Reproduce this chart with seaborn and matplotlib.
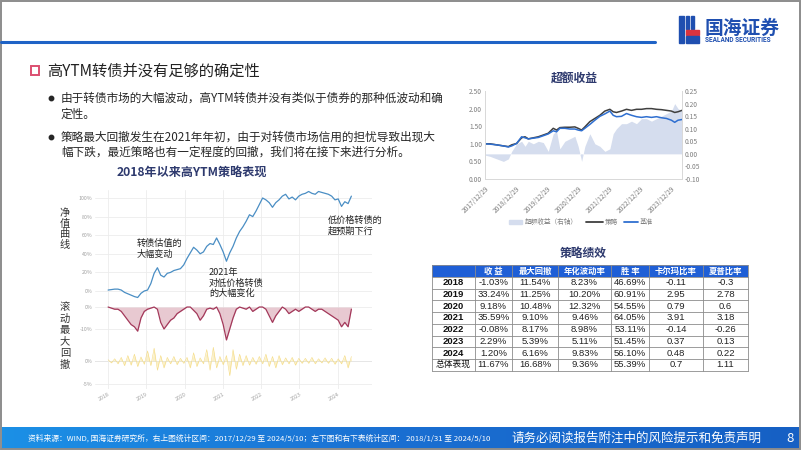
import matplotlib
matplotlib.use('Agg')
import matplotlib.pyplot as plt
import matplotlib.dates as mdates
from matplotlib.patches import Rectangle
from matplotlib.lines import Line2D
from matplotlib.colors import LinearSegmentedColormap
import numpy as np
import pandas as pd
import seaborn as sns

# ---------------- data ----------------
# left chart (2018/1 - 2024/5)
nav_pct = [1, 1.5, 2, 2, 1, -1.5, -3, -4.5, -6, -7, -2.5, 0, 1, 8, 19, 25, 17, 15, 19, 20,
           22, 23, 24, 28, 35, 41, 47, 44, 40, 42, 48, 51, 50, 57, 50, 42, 32, 41, 48, 57,
           64, 69, 75, 82, 80, 86, 93, 100, 98, 95, 90, 95, 98, 102, 104, 99, 101, 98, 102, 104,
           105, 107, 105, 104, 107, 106, 105, 104, 102, 98, 99, 91, 96, 94, 102]
drawdown_pct = [0, -0.5, -1, -1, -2, -4, -6, -8, -9, -11, -5, -2, -1, -0.5, 0, -1, -7, -10, -8, -6,
                -5, -3, -2, -1, 0, 0, -1.5, -3, -6, -4, -1, -0.5, -1, 0, -3, -8, -15, -10, -5, -1,
                0, -0.5, -1, 0, -2, -1, 0, 0, -1, -4, -7, -4, -2, 0, -1, -3, -2, -1, -2, -1,
                0, 0, -1, -2, -1, -1, -2, -3, -4, -5, -6, -9, -7, -9, -1]
daily_ret_pct = [0.3, -0.4, 0.5, -0.6, 0.8, -1.0, 1.2, -0.9, 1.5, -1.2, 0.9, -0.7,
                 2.2, -1.0, 2.8, -2.0, 1.2, -1.5, 0.8, -0.6, 1.0, -0.8, 0.6, -0.5,
                 0.8, -1.5, 1.8, -1.2, 0.7, -0.6, 2.5, -2.0, 3.0, -1.5, 1.0, -0.8,
                 1.2, -3.2, 2.5, -1.8, 1.5, -1.0, 1.2, -0.9, 0.8, -0.7, 1.0, -0.6,
                 1.5, -1.2, 1.0, -1.5, 1.2, -0.8, 0.7, -0.6, 0.8, -0.9, 0.6, -0.5,
                 0.6, -0.5, 0.8, -0.6, 0.5, -0.4, 0.7, -0.5, 0.6, -0.7, 0.5, -0.6,
                 1.2, -1.5, 1.0]
left_start, left_end = '2018-01-02', '2024-05-10'
left_years = ['2018', '2019', '2020', '2021', '2022', '2023', '2024']

# right chart (2017/12/29 - 2024/5/10)
right_dates = ['2017-12-29', '2018-02-27', '2018-05-16', '2018-08-03', '2018-10-01', '2018-11-09',
               '2019-01-06', '2019-03-06', '2019-04-15', '2019-05-24', '2019-07-22', '2019-09-19',
               '2019-11-17', '2020-01-14', '2020-03-13', '2020-04-21', '2020-05-30', '2020-07-28',
               '2020-09-25', '2020-11-23', '2021-01-01', '2021-02-11', '2021-03-21', '2021-05-19',
               '2021-07-17', '2021-09-14', '2021-11-12', '2022-01-10', '2022-02-18', '2022-03-29',
               '2022-05-27', '2022-07-25', '2022-09-22', '2022-11-20', '2023-01-18', '2023-03-18',
               '2023-05-16', '2023-07-14', '2023-09-11', '2023-11-09', '2024-01-06', '2024-02-14',
               '2024-03-24', '2024-05-10']
strategy = [1.00, 1.00, 0.97, 0.94, 0.92, 0.97, 1.01, 1.17, 1.20, 1.14, 1.17, 1.20, 1.25, 1.30,
            1.44, 1.39, 1.46, 1.47, 1.47, 1.48, 1.44, 1.39, 1.48, 1.63, 1.72, 1.81, 1.93, 1.98,
            1.91, 1.89, 1.93, 1.98, 1.95, 1.98, 1.98, 2.00, 2.00, 1.98, 1.97, 1.95, 1.93, 1.89,
            1.91, 1.95]
benchmark = [1.00, 0.99, 0.97, 0.94, 0.91, 0.94, 1.01, 1.20, 1.17, 1.14, 1.16, 1.18, 1.23, 1.28,
             1.37, 1.34, 1.44, 1.44, 1.42, 1.42, 1.39, 1.37, 1.44, 1.55, 1.67, 1.78, 1.85, 1.93,
             1.81, 1.77, 1.78, 1.86, 1.81, 1.77, 1.75, 1.77, 1.75, 1.77, 1.74, 1.72, 1.67, 1.61,
             1.67, 1.69]
excess = [-0.005, -0.01, -0.02, -0.03, -0.02, 0.01, 0.04, 0.05, 0.03, 0.05, 0.04, 0.05, 0.045, 0.01,
          0.08, 0.09, 0.02, 0.05, 0.06, 0.07, 0.03, -0.03, 0.03, 0.08, 0.04, 0.03, 0.01, 0.02,
          0.08, 0.10, 0.12, 0.12, 0.13, 0.12, 0.14, 0.14, 0.13, 0.14, 0.15, 0.16, 0.17, 0.20,
          0.18, 0.17]
right_ticks = ['2017-12-29', '2018-12-29', '2019-12-29', '2020-12-29', '2021-12-29',
               '2022-12-29', '2023-12-29']

# table
tbl_header = ['', '收 益', '最大回撤', '年化波动率', '胜 率', '卡尔玛比率', '夏普比率']
tbl_rows = ['2018', '2019', '2020', '2021', '2022', '2023', '2024', '总体表现']
tbl_return = ['-1.03%', '33.24%', '9.18%', '35.59%', '-0.08%', '2.29%', '1.20%', '11.67%']
tbl_maxdd = ['11.54%', '11.25%', '10.48%', '9.10%', '8.17%', '5.39%', '6.16%', '16.68%']
tbl_vol = ['8.23%', '10.20%', '12.32%', '9.46%', '8.98%', '5.11%', '9.83%', '9.36%']
tbl_win = ['46.69%', '60.91%', '54.55%', '64.05%', '53.11%', '51.45%', '56.10%', '55.39%']
tbl_calmar = ['-0.11', '2.95', '0.79', '3.91', '-0.14', '0.37', '0.48', '0.7']
tbl_sharpe = ['-0.3', '2.78', '0.6', '3.18', '-0.26', '0.13', '0.22', '1.11']

# ---------------- setup ----------------
sns.set_theme(style='white')
CJK = ['Noto Sans CJK SC', 'DejaVu Sans']
plt.rcParams['font.family'] = CJK
plt.rcParams['axes.unicode_minus'] = False

W, H = 802, 451
fig = plt.figure(figsize=(W / 100, H / 100), dpi=100)
fig.patch.set_facecolor('white')


def add_ax(l, t, w, h):
    ax = fig.add_axes([l / W, 1 - (t + h) / H, w / W, h / H])
    ax.patch.set_alpha(0)
    return ax


NAVY = '#2E3A6E'
GRID = '#ECECEC'
TICKC = '#A0A0A0'

# ---------------- left chart ----------------
ldates = pd.Series(pd.date_range(left_start, left_end, periods=len(nav_pct)))
x0 = mdates.date2num(pd.Timestamp('2018-01-01'))
pxyr = 38.3
lxlim = (x0 - (108 - 95) / pxyr * 365.25, x0 + (372 - 108) / pxyr * 365.25)
year_ticks = [pd.Timestamp(y + '-01-01') for y in left_years]

ax_nav = add_ax(95, 190, 277, 110)
ax_dd = add_ax(95, 300, 277, 45)
ax_ret = add_ax(95, 345, 277, 44)

sns.lineplot(x=ldates, y=nav_pct, ax=ax_nav, color='#4A8EC4', linewidth=0.9)
ax_nav.set_ylim(-9.7, 108.6)
ax_nav.set_yticks([0, 20, 40, 60, 80, 100])
ax_nav.set_yticklabels([f'{v}%' for v in [0, 20, 40, 60, 80, 100]])

sns.lineplot(x=ldates, y=drawdown_pct, ax=ax_dd, color='#A3385A', linewidth=0.9)
ax_dd.fill_between(ldates, drawdown_pct, 0, color='#E3BCC6', alpha=0.8, linewidth=0)
ax_dd.set_ylim(-17.3, 3.2)
ax_dd.set_yticks([0, -10])
ax_dd.set_yticklabels(['0%', '-10%'])

ax_ret.fill_between(ldates, daily_ret_pct, 0, color='#F8E6A6', alpha=0.6, linewidth=0)
sns.lineplot(x=ldates, y=daily_ret_pct, ax=ax_ret, color='#F3D670', linewidth=0.4, alpha=0.85)
ax_ret.axhline(0, color='#C4C4C4', lw=0.6, zorder=0)
ax_ret.set_ylim(-6.1, 3.5)
ax_ret.set_yticks([0, -5])
ax_ret.set_yticklabels(['0%', '-5%'])

for ax in (ax_nav, ax_dd, ax_ret):
    ax.set_xlim(*lxlim)
    ax.set_xticks(year_ticks)
    ax.set_xlabel('')
    ax.set_ylabel('')
    for s in ax.spines.values():
        s.set_visible(False)
    ax.grid(True, color=GRID, lw=0.6)
    ax.set_axisbelow(True)
    ax.tick_params(length=0, pad=2, labelsize=3.8, colors=TICKC)
ax_nav.set_xticklabels([])
ax_dd.set_xticklabels([])
ax_ret.set_xticklabels(left_years, rotation=30, ha='right', rotation_mode='anchor')
ax_ret.tick_params(axis='x', pad=2)

# ---------------- right chart ----------------
rdates = pd.Series(pd.to_datetime(right_dates))
ax_ex = add_ax(485, 91, 197, 88)
ax_ex.fill_between(rdates, excess, 0, color='#D5DDEE', linewidth=0)
ax_ln = ax_ex.twinx()
ax_ln.patch.set_alpha(0)
sns.lineplot(x=rdates, y=strategy, ax=ax_ln, color='#3F3F3F', linewidth=1.1)
sns.lineplot(x=rdates, y=benchmark, ax=ax_ln, color='#2F6FD0', linewidth=1.1)

ax_ex.set_ylim(-0.10, 0.25)
ex_ticks = np.arange(-0.10, 0.251, 0.05)
ax_ex.set_yticks(ex_ticks)
ax_ex.set_yticklabels([f'{v:.2f}' for v in ex_ticks])
ax_ex.yaxis.tick_right()

ax_ln.set_ylim(0, 2.5)
ln_ticks = np.arange(0, 2.51, 0.5)
ax_ln.set_yticks(ln_ticks)
ax_ln.set_yticklabels([f'{v:.2f}' for v in ln_ticks])
ax_ln.yaxis.tick_left()

rxlim = (mdates.date2num(pd.Timestamp('2017-12-29')), mdates.date2num(pd.Timestamp('2024-05-10')))
for ax in (ax_ex, ax_ln):
    ax.set_xlim(*rxlim)
    ax.set_xlabel('')
    ax.set_ylabel('')
    ax.grid(False)
    for k, s in ax.spines.items():
        s.set_color('#D9D9D9')
        s.set_linewidth(0.7)
        s.set_visible(k != 'top')
    ax.tick_params(length=0, pad=2, labelsize=4.8, colors='#7F7F7F')
ax_ex.set_xticks(pd.to_datetime(right_ticks))
ax_ex.set_xticklabels([pd.Timestamp(d).strftime('%Y/%m/%d') for d in right_ticks],
                      rotation=45, ha='right', rotation_mode='anchor')
ax_ex.tick_params(axis='x', length=2, color='#D9D9D9', pad=2)
ax_ex.tick_params(axis='y', labelleft=False, labelright=True)
ax_ln.tick_params(axis='y', labelleft=True, labelright=False)

# ---------------- footer bar ----------------
ax_ft = add_ax(2, 427, 797, 22)
grad = np.linspace(0, 1, 256)[None, :]
cm = LinearSegmentedColormap.from_list('ft', ['#1C90E6', '#1A6FD2', '#1660C4'])
ax_ft.imshow(grad, aspect='auto', cmap=cm, extent=[0, 1, 0, 1])
ax_ft.axis('off')

# ---------------- overlay ----------------
ov = fig.add_axes([0, 0, 1, 1])
ov.set_xlim(0, W)
ov.set_ylim(H, 0)
ov.axis('off')
ov.patch.set_alpha(0)

# frame
ov.add_patch(Rectangle((0.8, 0.8), W - 3, H - 2.5, fill=False, ec='#8C8C8C', lw=1.4))
# header line
ov.add_line(Line2D([1, 655], [42, 42], color='#1F63C6', lw=2.2))
# logo
ov.add_patch(Rectangle((679, 16), 4.5, 27, color='#1F4FB0'))
ov.add_patch(Rectangle((686, 16), 3, 13, color='#1F4FB0'))
ov.add_patch(Rectangle((691, 16), 3, 13, color='#1F4FB0'))
ov.add_patch(Rectangle((686, 30), 13, 4.5, color='#D9333F'))
ov.add_patch(Rectangle((686, 36), 13, 7, color='#1F4FB0'))
ov.text(705, 28, '国海证券', fontsize=13.5, fontweight='bold', color='#1F4FB0', va='center', ha='left')
ov.text(705, 40.5, 'SEALAND SECURITIES', fontsize=4.7, fontweight='bold', color='#1F4FB0',
        va='center', ha='left', family=['Roboto', 'DejaVu Sans'])

# title
ov.add_patch(Rectangle((31, 66), 8, 9, fill=False, ec='#DC4F70', lw=1.4))
ov.text(47, 71, '高YTM转债并没有足够的确定性', fontsize=11, color='#222222', va='center', ha='left')

# bullets
bullets = [(98, '由于转债市场的大幅波动，高YTM转债并没有类似于债券的那种低波动和确'),
           (114, '定性。'),
           (137, '策略最大回撤发生在2021年年初，由于对转债市场信用的担忧导致出现大'),
           (152, '幅下跌，最近策略也有一定程度的回撤，我们将在接下来进行分析。')]
for y, t in bullets:
    ov.text(61, y, t, fontsize=8.4, color='#262626', va='center', ha='left')
for y in (98, 137):
    ov.plot([50.5], [y], marker='o', ms=3.2, color='#262626')

# left chart title & labels
ov.text(192, 173, '2018年以来高YTM策略表现', fontsize=8.7, fontweight='bold', color=NAVY,
        va='center', ha='center')
ov.text(65, 229, '净\n值\n曲\n线', fontsize=7.4, color='#333333', va='center', ha='center', linespacing=1.05)
ov.text(65, 336, '滚\n动\n最\n大\n回\n撤', fontsize=7.4, color='#333333', va='center', ha='center',
        linespacing=1.2)
ov.text(137, 249, '转债估值的\n大幅变动', fontsize=6.6, color='#222222', va='center', ha='left',
        linespacing=1.25)
ov.text(209, 283, '2021年\n对低价格转债\n的大幅变化', fontsize=6.6, color='#222222', va='center',
        ha='left', linespacing=1.15)
ov.text(328, 226, '低价格转债的\n超预期下行', fontsize=6.6, color='#222222', va='center', ha='left',
        linespacing=1.25)

# right chart title & legend
ov.text(574, 78, '超额收益', fontsize=8.5, fontweight='bold', color=NAVY, va='center', ha='center')
ov.add_patch(Rectangle((509, 220), 13, 4, color='#D5DDEE'))
ov.text(525, 222, '超额收益（右轴）', fontsize=4.8, color='#7F7F7F', va='center', ha='left')
ov.add_line(Line2D([586, 603], [222, 222], color='#3F3F3F', lw=1.3))
ov.text(605, 222, '策略', fontsize=4.8, color='#7F7F7F', va='center', ha='left')
ov.add_line(Line2D([624, 638], [222, 222], color='#2F6FD0', lw=1.3))
ov.text(640, 222, '基准', fontsize=4.8, color='#7F7F7F', va='center', ha='left')

# table
ov.text(583, 253, '策略绩效', fontsize=8.5, fontweight='bold', color=NAVY, va='center', ha='center')
cols = [432, 475, 512, 558, 611, 649, 703, 748]
row_top, hdr_h, row_h = 265, 12, 11.7
ov.add_patch(Rectangle((cols[0], row_top), cols[-1] - cols[0], hdr_h, color='#1F5FD6', lw=0))
for j, lab in enumerate(tbl_header):
    ov.text((cols[j] + cols[j + 1]) / 2, row_top + hdr_h / 2 + 0.3, lab, fontsize=6, color='white',
            fontweight='bold', va='center', ha='center')
body = [tbl_return, tbl_maxdd, tbl_vol, tbl_win, tbl_calmar, tbl_sharpe]
NUMF = ['Liberation Sans', 'Noto Sans CJK SC']
for i, name in enumerate(tbl_rows):
    yc = row_top + hdr_h + row_h * i + row_h / 2
    ov.text((cols[0] + cols[1]) / 2, yc, name, fontsize=6.8 if i < 7 else 6.3, color='#111111',
            fontweight='bold' if i < 7 else 'normal', va='center', ha='center', family=NUMF)
    for j, colvals in enumerate(body):
        ov.text((cols[j + 1] + cols[j + 2]) / 2, yc, colvals[i], fontsize=6.8, color='#222222',
                va='center', ha='center', family=NUMF)
bottom = row_top + hdr_h + row_h * len(tbl_rows)
for i in range(len(tbl_rows) + 1):
    y = row_top + hdr_h + row_h * i
    ov.add_line(Line2D([cols[0], cols[-1]], [y, y], color='#8C8C8C', lw=0.6))
ov.add_line(Line2D([cols[0], cols[-1]], [row_top, row_top], color='#8C8C8C', lw=0.6))
for x in cols:
    ov.add_line(Line2D([x, x], [row_top, bottom], color='#8C8C8C', lw=0.6))

# footer text
ov.text(28, 438, '资料来源：WIND, 国海证券研究所，右上图统计区间：2017/12/29 至 2024/5/10；左下图和右下表统计区间： '
        '2018/1/31 至 2024/5/10', fontsize=5.6, color='white', va='center', ha='left')
ov.text(512, 438, '请务必阅读报告附注中的风险提示和免责声明', fontsize=9, color='white', va='center', ha='left')
ov.text(790, 438, '8', fontsize=9.5, color='white', va='center', ha='center')

fig.savefig('out.png', dpi=100)
